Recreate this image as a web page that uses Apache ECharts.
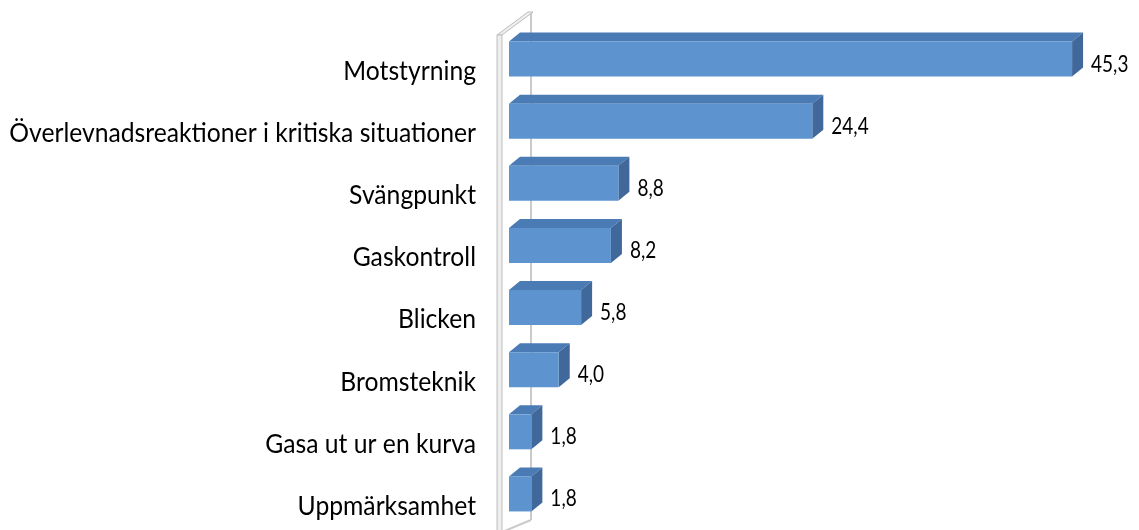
<!DOCTYPE html>
<html>
<head>
<meta charset="utf-8">
<script src="https://cdn.jsdelivr.net/npm/echarts@6/dist/echarts.min.js"></script>
<style>
  html, body { margin: 0; padding: 0; background: #fff; }
  #chart { width: 1139px; height: 530px; }
</style>
</head>
<body>
<div id="chart"></div>
<script>
// data
const categories = ['Motstyrning', 'Överlevnadsreaktioner i kritiska situationer', 'Svängpunkt',
  'Gaskontroll', 'Blicken', 'Bromsteknik', 'Gasa ut ur en kurva', 'Uppmärksamhet'];
const values = [45.3, 24.4, 8.8, 8.2, 5.8, 4.0, 1.8, 1.8];

const myChart = echarts.init(document.getElementById('chart'));

// 3D look
const DX = 11, DY = 9, BAR_H = 35;
const FRONT = '#5d94cf', TOP = '#4a7bb5', SIDE = '#40689b';
const FONT = 'Lato, "Open Sans", sans-serif';
const STRETCH = 1.12;

function wallItem(params, api) {
  const cs = params.coordSys;
  const gx = cs.x, gy = cs.y;
  const bottom = gy + 504;
  return {
    type: 'group',
    children: [
      { type: 'line', shape: { x1: gx + 22, y1: gy - 16, x2: gx + 22, y2: gy + 492 },
        style: { stroke: '#cacaca', lineWidth: 2 } },
      { type: 'line', shape: { x1: gx - 7, y1: bottom, x2: gx + 22, y2: gy + 492 },
        style: { stroke: '#cacaca', lineWidth: 2 } },
      { type: 'polygon', shape: { points: [[gx - 12, gy + 7], [gx + 19, gy - 16], [gx + 24, gy - 16], [gx - 7, gy + 7]] },
        style: { fill: '#eeeeee', stroke: '#bebebe', lineWidth: 1 } },
      { type: 'rect', shape: { x: gx - 12, y: gy + 7, width: 5, height: bottom - gy - 7 },
        style: { fill: '#eeeeee', stroke: '#bebebe', lineWidth: 1 } }
    ]
  };
}

function barItem(params, api) {
  const v = api.value(0), i = api.value(1);
  const p0 = api.coord([0, i]);
  const p1 = api.coord([v, i]);
  const cy = p0[1];
  const x0 = p0[0], x1 = p1[0];
  const t = cy - BAR_H / 2, b = cy + BAR_H / 2;
  const gx = params.coordSys.x;
  return {
    type: 'group',
    children: [
      { type: 'polygon', shape: { points: [[x0, t], [x0 + DX, t - DY], [x1 + DX, t - DY], [x1, t]] },
        style: { fill: TOP } },
      { type: 'polygon', shape: { points: [[x1, t], [x1 + DX, t - DY], [x1 + DX, b - DY], [x1, b]] },
        style: { fill: SIDE } },
      { type: 'rect', shape: { x: x0, y: t, width: x1 - x0, height: BAR_H },
        style: { fill: FRONT } },
      { type: 'text', x: x1 + DX + 8, y: cy + 5, scaleY: 1.22,
        style: { text: v.toFixed(1).replace('.', ','), fill: '#000', font: '19px ' + FONT,
          textAlign: 'left', textVerticalAlign: 'middle' } },
      { type: 'text', x: gx - 33, y: cy + 12, scaleY: STRETCH,
        style: { text: categories[i], fill: '#000', font: '24.7px ' + FONT,
          textAlign: 'right', textVerticalAlign: 'middle' } }
    ]
  };
}

const option = {
  backgroundColor: '#ffffff',
  animation: false,
  grid: { left: 509, top: 28, width: 621.5, height: 497 },
  xAxis: { type: 'value', min: 0, max: 50, show: false },
  yAxis: { type: 'category', data: categories, inverse: true, show: false },
  series: [
    { type: 'custom', name: 'wall', renderItem: wallItem, data: [[0, 0]], silent: true, clip: false },
    { type: 'custom', name: 'Andel', renderItem: barItem, clip: false,
      encode: { x: 0, y: 1 },
      data: values.map(function (v, i) { return [v, i]; }) }
  ]
};

myChart.setOption(option);
</script>
</body>
</html>
